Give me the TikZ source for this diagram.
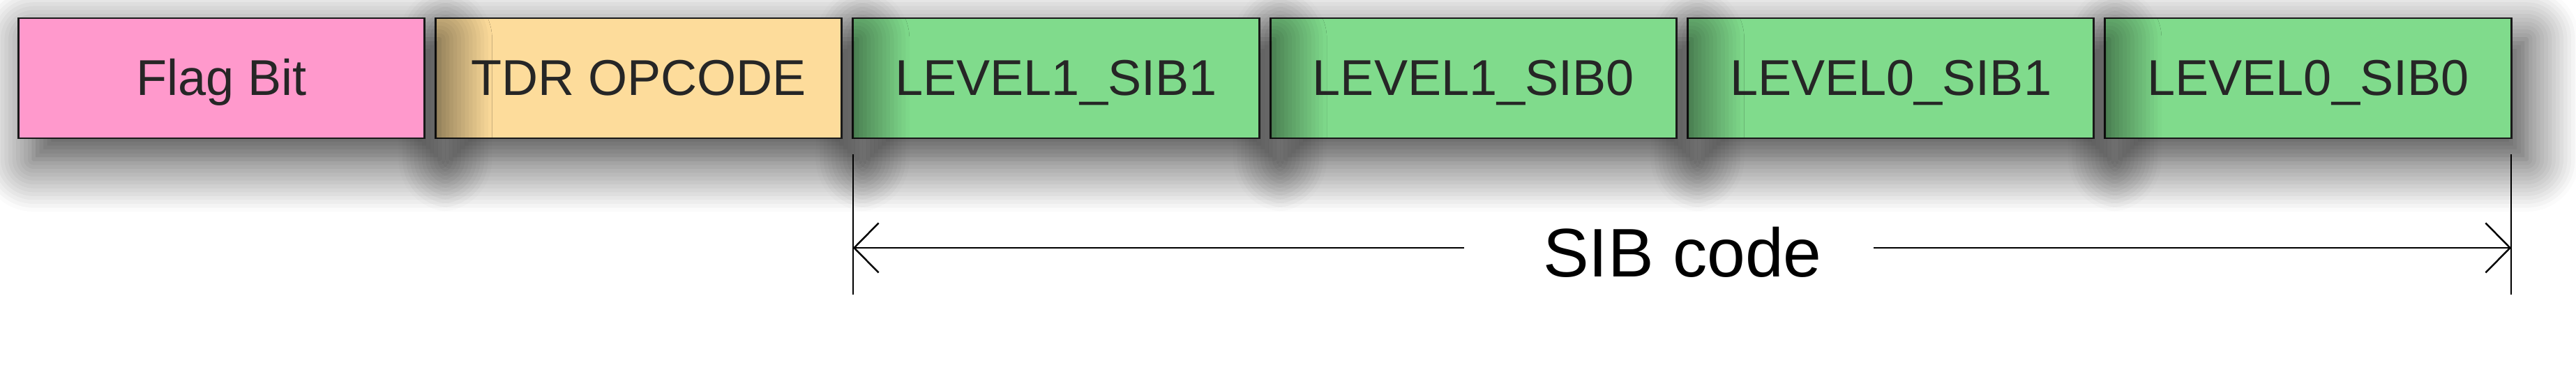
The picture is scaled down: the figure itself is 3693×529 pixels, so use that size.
\documentclass[tikz,border=0pt]{standalone}
\usepackage{fontspec}
\setmainfont{Liberation Sans}
\usepackage{xcolor}
\usetikzlibrary{positioning,arrows.meta,shadows.blur}
\definecolor{flagpink}{HTML}{FF99CC}
\definecolor{opctan}{HTML}{FDDC9B}
\definecolor{sibgreen}{HTML}{80DB8C}

\begin{document}
\begin{tikzpicture}[x=0.01cm,y=-0.01cm,
            field/.style={draw=black!90,line width=0.8pt,outer sep=0pt,
                minimum width=5.82cm,minimum height=1.72cm,inner sep=0pt,
                text=black!85,text height=0.53cm,text depth=0.05cm,
                font=\fontsize{20.5}{24}\selectfont,
                blur shadow={shadow xshift=0.22cm,shadow yshift=-0.3cm,
                    shadow blur radius=0.75cm,shadow opacity=80,shadow blur steps=14}},
            dimline/.style={line width=0.7pt},
            dimtip/.style={dimline,-{Straight Barb[length=0.35cm,width=0.71cm]}}]
    \useasboundingbox (0,0) rectangle (3693,529);
    % fields, drawn from right to left
    \node[field,fill=sibgreen] (l0s0) at (3309,112) {LEVEL0\_SIB0};
    \node[field,fill=sibgreen,left=0.16cm of l0s0] (l0s1) {LEVEL0\_SIB1};
    \node[field,fill=sibgreen,left=0.16cm of l0s1] (l1s0) {LEVEL1\_SIB0};
    \node[field,fill=sibgreen,left=0.16cm of l1s0] (l1s1) {LEVEL1\_SIB1};
    \node[field,fill=opctan,left=0.16cm of l1s1] (opc) {TDR OPCODE};
    \node[field,fill=flagpink,left=0.16cm of opc] (flag) {Flag Bit};
    % SIB code span
    \coordinate[below=0.23cm of l1s1.south west] (lt);
    \coordinate[below=2.24cm of l1s1.south west] (lb);
    \coordinate[below=0.23cm of l0s0.south east] (rt);
    \coordinate[below=2.24cm of l0s0.south east] (rb);
    \draw[dimline] (lt) -- (lb);
    \draw[dimline] (rt) -- (rb);
    \node[font=\fontsize{28}{32}\selectfont] (sib) at (2412,361) {SIB code};
    \coordinate (lm) at (2099,355);
    \coordinate (rm) at (2686,355);
    \draw[dimtip] (lm) -- (lt |- lm);
    \draw[dimtip] (rm) -- (rt |- rm);
\end{tikzpicture}
\end{document}
